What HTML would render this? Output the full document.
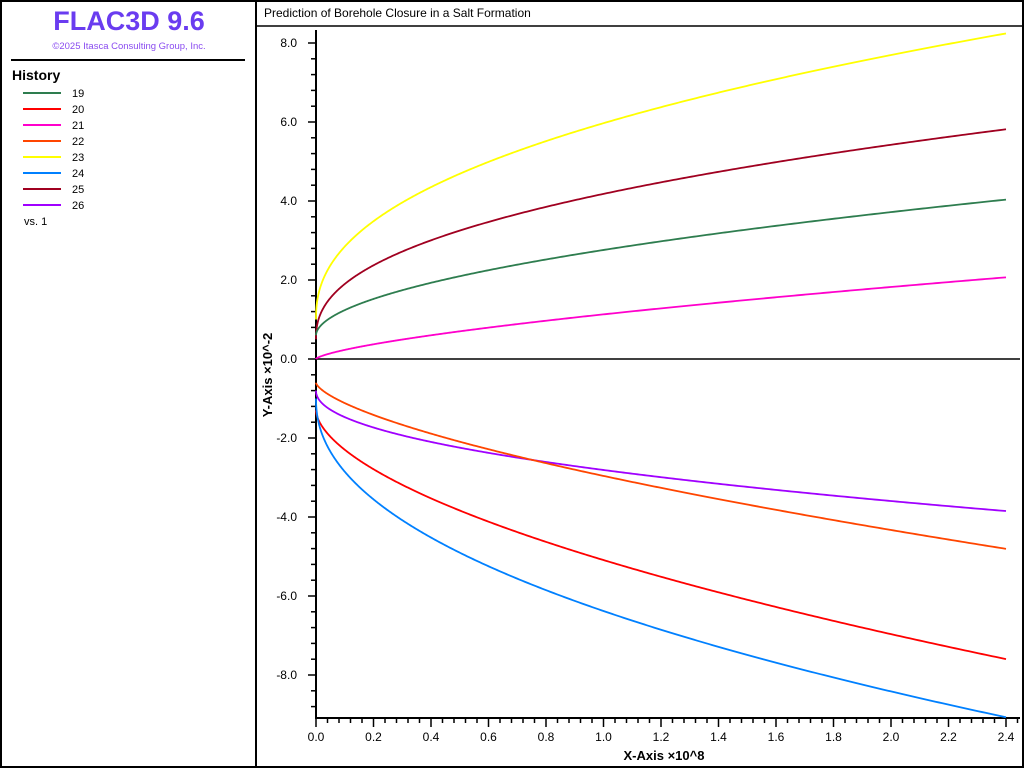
<!DOCTYPE html>
<html><head><meta charset="utf-8"><style>
body{margin:0;width:1024px;height:768px;background:#fff;overflow:hidden;font-family:"Liberation Sans",sans-serif}
</style></head><body>
<svg width="1024" height="768" xmlns="http://www.w3.org/2000/svg" font-family="Liberation Sans, sans-serif">
<rect x="1" y="1" width="1022" height="766" fill="#fff" stroke="#000" stroke-width="2"/>
<line x1="256" y1="0" x2="256" y2="768" stroke="#000" stroke-width="2"/>
<line x1="256" y1="26" x2="1024" y2="26" stroke="#000" stroke-width="1.5"/>
<text x="129" y="30" text-anchor="middle" font-size="27" font-weight="bold" fill="#6a3cf0">FLAC3D 9.6</text>
<text x="129" y="49" text-anchor="middle" font-size="9.5" fill="#8a4cf0">©2025 Itasca Consulting Group, Inc.</text>
<line x1="11" y1="60" x2="245" y2="60" stroke="#000" stroke-width="2"/>
<text x="12" y="80" font-size="14" font-weight="bold">History</text>
<g stroke-width="2">
<line x1="23" y1="93" x2="61" y2="93" stroke="#2e7d4f"/>
<line x1="23" y1="109" x2="61" y2="109" stroke="#ff0000"/>
<line x1="23" y1="125" x2="61" y2="125" stroke="#ff00cc"/>
<line x1="23" y1="141" x2="61" y2="141" stroke="#ff4500"/>
<line x1="23" y1="157" x2="61" y2="157" stroke="#ffff00"/>
<line x1="23" y1="173" x2="61" y2="173" stroke="#0080ff"/>
<line x1="23" y1="189" x2="61" y2="189" stroke="#a00020"/>
<line x1="23" y1="205" x2="61" y2="205" stroke="#a000ff"/>
</g>
<g font-size="11">
<text x="72" y="97">19</text><text x="72" y="113">20</text><text x="72" y="129">21</text><text x="72" y="145">22</text>
<text x="72" y="161">23</text><text x="72" y="177">24</text><text x="72" y="193">25</text><text x="72" y="209">26</text>
<text x="24" y="225">vs. 1</text>
</g>
<text x="264" y="17" font-size="12">Prediction of Borehole Closure in a Salt Formation</text>
<g id="ticks" stroke="#000" stroke-width="1.5"></g>
<line x1="316" y1="30" x2="316" y2="719" stroke="#000" stroke-width="2"/>
<line x1="315" y1="718" x2="1020" y2="718" stroke="#000" stroke-width="2"/>
<line x1="316" y1="359" x2="1020" y2="359" stroke="#000" stroke-width="1.5"/>
<g font-size="12" text-anchor="end">
<text x="297" y="47">8.0</text><text x="297" y="126">6.0</text><text x="297" y="205">4.0</text><text x="297" y="284">2.0</text>
<text x="297" y="363">0.0</text><text x="297" y="442">-2.0</text><text x="297" y="521">-4.0</text><text x="297" y="600">-6.0</text><text x="297" y="679">-8.0</text>
</g>
<g font-size="12" text-anchor="middle">
<text x="316" y="741">0.0</text><text x="373.5" y="741">0.2</text><text x="431" y="741">0.4</text><text x="488.5" y="741">0.6</text>
<text x="546" y="741">0.8</text><text x="603.5" y="741">1.0</text><text x="661" y="741">1.2</text><text x="718.5" y="741">1.4</text>
<text x="776" y="741">1.6</text><text x="833.5" y="741">1.8</text><text x="891" y="741">2.0</text><text x="948.5" y="741">2.2</text><text x="1006" y="741">2.4</text>
</g>
<text x="664" y="760" text-anchor="middle" font-size="13" font-weight="bold">X-Axis ×10^8</text>
<text x="0" y="0" transform="translate(272,375) rotate(-90)" text-anchor="middle" font-size="13" font-weight="bold">Y-Axis ×10^-2</text>
<g id="curves" fill="none" stroke-width="1.8"></g>
</svg>
<script>
var NS="http://www.w3.org/2000/svg";
var t=document.getElementById("ticks");
function ln(x1,y1,x2,y2){var l=document.createElementNS(NS,"line");l.setAttribute("x1",x1);l.setAttribute("y1",y1);l.setAttribute("x2",x2);l.setAttribute("y2",y2);t.appendChild(l);}
for(var i=-9.2;i<=8.41;i+=0.4){var v=Math.round(i*10)/10;var y=359-39.5*v;if(y<30||y>718)continue;var maj=Math.abs(v/2-Math.round(v/2))<1e-6;ln(maj?308:311,y,316,y);}
for(var k=0;k<=61;k++){var x=316+k*0.04*287.5;if(x>1020)break;var maj=k%5==0;ln(x,718,x,maj?727:723);}
var c=document.getElementById("curves");
var S=[["#ffff00",1,4.97,0.43],["#a00020",0.5,3.68,0.42],["#2e7d4f",0.6,2.16,0.53],["#ff00cc",0,1.13,0.69],
["#a000ff",-0.8,-2.01,0.476],["#ff4500",-0.6,-2.36,0.66],["#ff0000",-1.3,-3.79,0.58],["#0080ff",-1,-5.38,0.463]];
S.forEach(function(s){var d="";for(var j=0;j<=400;j++){var xv=2.4*Math.pow(j/400,2);var v=s[1]+s[2]*Math.pow(xv,s[3]);
var px=316+xv*287.5,py=359-39.5*v;d+=(j?"L":"M")+px.toFixed(2)+" "+py.toFixed(2);}
var p=document.createElementNS(NS,"path");p.setAttribute("d",d);p.setAttribute("stroke",s[0]);c.appendChild(p);});
</script>
</body></html>
